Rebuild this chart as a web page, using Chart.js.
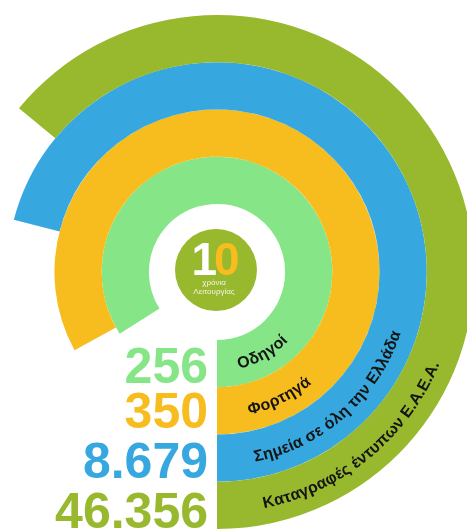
<!DOCTYPE html>
<html>
<head>
<meta charset="utf-8">
<script src="https://cdn.jsdelivr.net/npm/chart.js@4.4.1/dist/chart.umd.min.js"></script>
<style>
	html, body { margin: 0; padding: 0; background: #ffffff; overflow: hidden; }
	#wrap { position: relative; width: 467px; height: 532px; }
</style>
</head>
<body>
<div id="wrap"><canvas id="rings" width="467" height="532"></canvas></div>
<script>
// inner ring first, as read top to bottom on the left
const ringLabels = ['Οδηγοί', 'Φορτηγά', 'Σημεία σε όλη την Ελλάδα', 'Καταγραφές έντυπων Ε.Α.Ε.Α.'];
const counts = [256, 350, 8679, 46356];
const arcPercent = [84, 83, 71, 64];   // how much of the circle each ring covers
const ringColors = ['#86e586', '#f7bd1f', '#37a8df', '#98b82e'];

const centerTop = '10';
const centerLines = ['χρόνια', 'Λειτουργίας'];

function fmt(n) {
	return String(n).replace(/\B(?=(\d{3})+(?!\d))/g, '.');
}

// outer ring is the first dataset in a doughnut
const datasets = ringLabels.map((lbl, i) => ({
	label: lbl,
	data: [100 - arcPercent[i], arcPercent[i]],
	backgroundColor: ['rgba(0,0,0,0)', ringColors[i]],
	borderWidth: 0
})).reverse();

const labelMid = [60.7, 63.5, 48.5, 50.6];  // degrees, screen angle of label centre

const decor = {
	id: 'decor',
	afterDraw(chart) {
		const ctx = chart.ctx;
		const el = chart.getDatasetMeta(0).data[1];
		const cx = el.x, cy = el.y;
		const n = ringLabels.length;

		// curved labels
		ctx.save();
		ctx.fillStyle = '#141414';
		ctx.textAlign = 'center';
		ctx.textBaseline = 'middle';
		ctx.font = 'bold 16px "Liberation Sans", Arial, sans-serif';
		ringLabels.forEach((txt, i) => {
			const arc = chart.getDatasetMeta(n - 1 - i).data[1];
			const r = (arc.innerRadius + arc.outerRadius) / 2 + 3;
			const chars = Array.from(txt);
			const total = chars.reduce((s, c) => s + ctx.measureText(c).width, 0);
			let a = labelMid[i] * Math.PI / 180 + total / r / 2;
			chars.forEach(c => {
				const w = ctx.measureText(c).width;
				const ac = a - w / 2 / r;
				ctx.save();
				ctx.translate(cx + r * Math.cos(ac), cy + r * Math.sin(ac));
				ctx.rotate(ac - Math.PI / 2);
				ctx.fillText(c, 0, 0);
				ctx.restore();
				a -= w / r;
			});
		});
		ctx.restore();

		// numbers on the left
		ctx.save();
		ctx.textAlign = 'right';
		ctx.textBaseline = 'alphabetic';
		ctx.font = 'bold 50px "Liberation Sans", Arial, sans-serif';
		const base = [383, 428, 478, 528];
		counts.forEach((v, i) => {
			ctx.fillStyle = ringColors[i];
			ctx.fillText(fmt(v), cx - 9, base[i]);
		});
		ctx.restore();

		// centre badge
		ctx.save();
		const bx = cx - 1, by = cy - 2;
		ctx.fillStyle = ringColors[3];
		ctx.beginPath();
		ctx.arc(bx, by, 41, 0, Math.PI * 2);
		ctx.fill();
		ctx.textBaseline = 'alphabetic';
		ctx.font = 'bold 46px "Liberation Sans Narrow", "Liberation Sans", sans-serif';
		ctx.textAlign = 'left';
		ctx.fillStyle = '#f7bd1f';
		ctx.fillText(centerTop[1], bx - 2, by + 5);
		ctx.textAlign = 'right';
		ctx.fillStyle = '#ffffff';
		ctx.fillText(centerTop[0], bx + 1, by + 5);
		ctx.font = '8px "Liberation Sans", sans-serif';
		ctx.textAlign = 'center';
		ctx.fillStyle = '#f4f4e8';
		ctx.fillText(centerLines[0], bx - 2, by + 15);
		ctx.fillText(centerLines[1], bx - 2, by + 24);
		ctx.restore();
	}
};

new Chart(document.getElementById('rings'), {
	type: 'doughnut',
	data: {
		labels: ['', ''],
		datasets: datasets
	},
	options: {
		responsive: false,
		animation: false,
		events: [],
		rotation: 180,
		radius: 257,
		cutout: '26.5%',
		layout: {
			padding: { left: 0, right: 33, top: 12, bottom: 0 }
		},
		plugins: {
			legend: { display: false },
			tooltip: { enabled: false }
		}
	},
	plugins: [decor]
});
</script>
</body>
</html>
